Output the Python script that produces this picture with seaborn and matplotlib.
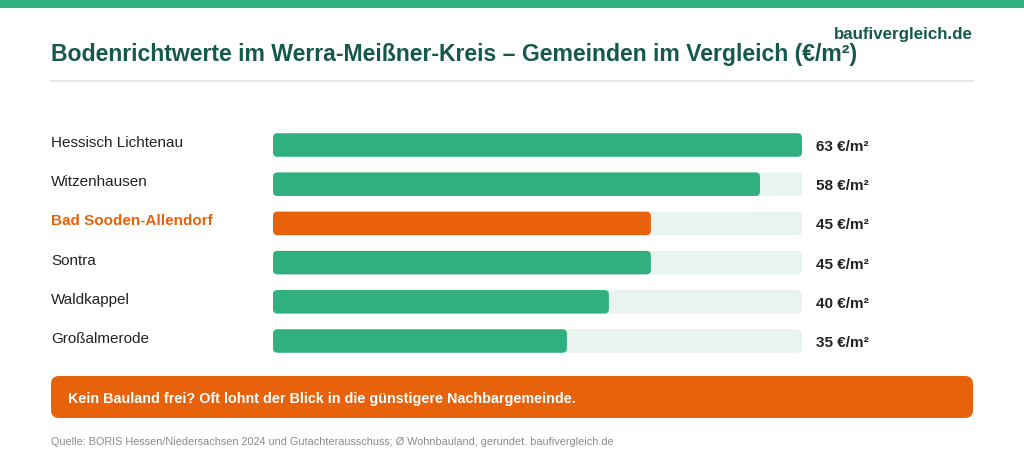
import matplotlib
matplotlib.use('Agg')
import numpy as np
import pandas as pd
import matplotlib.pyplot as plt
import seaborn as sns
from matplotlib.patches import FancyBboxPatch, Rectangle
from matplotlib.transforms import blended_transform_factory

# data
gemeinden = ["Hessisch Lichtenau", "Witzenhausen", "Bad Sooden-Allendorf",
             "Sontra", "Waldkappel", "Großalmerode"]
werte = [63, 58, 45, 45, 40, 35]
highlight = "Bad Sooden-Allendorf"

title = "Bodenrichtwerte im Werra-Meißner-Kreis – Gemeinden im Vergleich (€/m²)"
brand = "baufivergleich.de"
hinweis = "Kein Bauland frei? Oft lohnt der Blick in die günstigere Nachbargemeinde."
quelle = "Quelle: BORIS Hessen/Niedersachsen 2024 und Gutachterausschuss; Ø Wohnbauland, gerundet. baufivergleich.de"

GREEN = "#30b07f"
ORANGE = "#e8610b"
TRACK = "#e9f3ef"
DARK = "#15594c"
TEXT = "#222222"

sns.set_theme(style="white")
plt.rcParams['font.family'] = ['Liberation Sans', 'DejaVu Sans']

df = pd.DataFrame({"gemeinde": gemeinden, "wert": werte})
df["track"] = df["wert"].max()
palette = {g: (ORANGE if g == highlight else GREEN) for g in gemeinden}

W, H = 1024, 466
fig = plt.figure(figsize=(W / 100, H / 100), dpi=100)
fig.patch.set_facecolor("white")

# top band
fig.add_artist(Rectangle((0, 1 - 8 / H), 1, 8 / H, transform=fig.transFigure,
                         facecolor=GREEN, edgecolor="none"))

fig.text(51 / W, 1 - 55 / H, title, fontsize=16.6, fontweight="bold",
         color=DARK, va="center", ha="left")
fig.text(973 / W, 1 - 35 / H, brand, fontsize=12.2, fontweight="bold",
         color=DARK, va="center", ha="right")
fig.add_artist(plt.Line2D([51 / W, 973 / W], [1 - 81 / H, 1 - 81 / H],
                          transform=fig.transFigure, color="#e2e5e4", lw=1.2))

# bar axes
ax = fig.add_axes([273 / W, 1 - 360.6 / H, 529 / W, 235.2 / H])
sns.barplot(data=df, x="track", y="gemeinde", color=TRACK, width=0.6,
            ax=ax, saturation=1)
sns.barplot(data=df, x="wert", y="gemeinde", hue="gemeinde", palette=palette,
            width=0.6, ax=ax, saturation=1, legend=False)
ax.set_xlim(0, df["wert"].max())
ax.set_ylim(5.5, -0.5)

# round the bar corners
px_x = 529 / df["wert"].max()
px_y = 235.2 / 6
r = 4.5 / px_x
for p in list(ax.patches):
    x0, y0, w, h = p.get_x(), p.get_y(), p.get_width(), p.get_height()
    fc = p.get_facecolor()
    p.remove()
    ax.add_patch(FancyBboxPatch((x0, y0), w, h,
                                boxstyle=f"round,pad=0,rounding_size={r}",
                                mutation_aspect=px_x / px_y,
                                facecolor=fc, edgecolor="none", clip_on=False))
ax.axis("off")

trans = blended_transform_factory(fig.transFigure, ax.transData)
for i, (g, v) in enumerate(zip(gemeinden, werte)):
    is_hl = g == highlight
    ax.text(51 / W, i - 0.05, g, transform=trans, fontsize=11,
            color=ORANGE if is_hl else TEXT,
            fontweight="bold" if is_hl else "normal", va="center", ha="left")
    ax.text(816 / W, i + 0.05, f"{v} €/m²", transform=trans, fontsize=11,
            fontweight="bold", color=TEXT, va="center", ha="left")

# callout box
fig.add_artist(FancyBboxPatch((51 / W, 1 - 418 / H), 922 / W, 42 / H,
                              boxstyle=f"round,pad=0,rounding_size={8 / W}",
                              mutation_aspect=W / H, transform=fig.transFigure,
                              facecolor=ORANGE, edgecolor="none"))
fig.text(68 / W, 1 - 398.5 / H, hinweis, fontsize=10.4, fontweight="bold",
         color="white", va="center", ha="left")

fig.text(51 / W, 1 - 442 / H, quelle, fontsize=7.85, color="#8a8a8a",
         va="center", ha="left")

plt.savefig("out.png", dpi=100)
plt.close()
